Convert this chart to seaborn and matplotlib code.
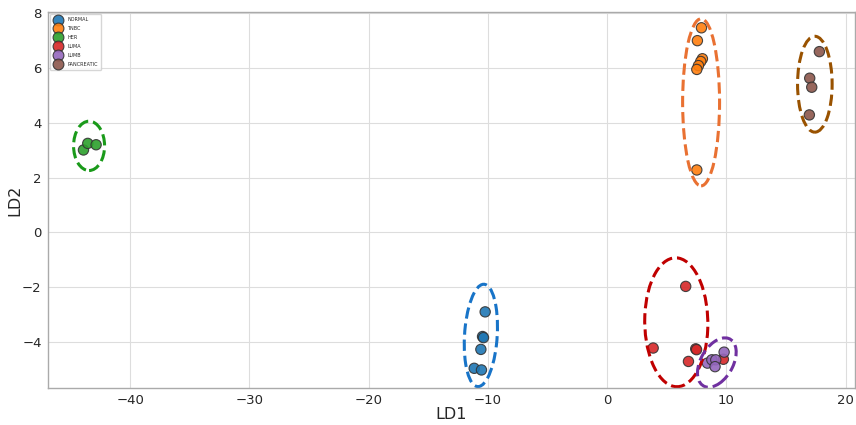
import seaborn as sns
import matplotlib.pyplot as plt
import pandas as pd
from matplotlib.patches import Ellipse

# LDA projection
normal_ld1 = [-10.23, -10.45, -10.37, -10.59, -11.15, -10.54]
normal_ld2 = [-2.90, -3.80, -3.84, -4.27, -4.96, -5.02]
tnbc_ld1 = [7.91, 7.57, 7.99, 7.85, 7.66, 7.52, 7.52]
tnbc_ld2 = [7.47, 7.00, 6.34, 6.24, 6.09, 5.95, 2.28]
her_ld1 = [-43.92, -43.56, -42.86]
her_ld2 = [3.01, 3.25, 3.20]
luma_ld1 = [6.59, 3.86, 7.43, 7.50, 6.82, 9.75]
luma_ld2 = [-1.97, -4.22, -4.25, -4.28, -4.71, -4.63]
lumb_ld1 = [8.41, 8.78, 9.11, 9.05, 9.81]
lumb_ld2 = [-4.77, -4.65, -4.65, -4.90, -4.37]
panc_ld1 = [17.80, 16.99, 17.16, 16.96]
panc_ld2 = [6.60, 5.63, 5.30, 4.29]

groups = ["NORMAL", "TNBC", "HER", "LUMA", "LUMB", "PANCREATIC"]
ld1 = [normal_ld1, tnbc_ld1, her_ld1, luma_ld1, lumb_ld1, panc_ld1]
ld2 = [normal_ld2, tnbc_ld2, her_ld2, luma_ld2, lumb_ld2, panc_ld2]

# cluster outlines: center x, center y, width, height, angle
ell_cx = [-10.59, 7.88, -43.45, 5.80, 9.20, 17.42]
ell_cy = [-3.76, 4.75, 3.16, -3.28, -4.75, 5.41]
ell_w = [2.7, 3.1, 2.6, 5.3, 3.36, 2.9]
ell_h = [3.8, 6.1, 1.8, 4.7, 1.58, 3.5]
ell_angle = [-15, 0, 0, -5, 17, 0]
ell_colors = ["#1874c8", "#e97132", "#1a9a1a", "#c00000", "#7030a0", "#995200"]

rows = []
for g, xs, ys in zip(groups, ld1, ld2):
    for x, y in zip(xs, ys):
        rows.append({"LD1": x, "LD2": y, "group": g})
df = pd.DataFrame(rows)

sns.set_style("whitegrid")
fig = plt.figure(figsize=(8.56, 4.25), dpi=100)
ax = fig.add_axes([0.056, 0.087, 0.943, 0.885])

sns.scatterplot(data=df, x="LD1", y="LD2", hue="group", hue_order=groups,
                palette="tab10", s=55, edgecolor="#333333", linewidth=0.8,
                alpha=0.9, ax=ax)

for cx, cy, w, h, a, c in zip(ell_cx, ell_cy, ell_w, ell_h, ell_angle, ell_colors):
    ax.add_patch(Ellipse((cx, cy), w, h, angle=a, fill=False, edgecolor=c,
                         linestyle="--", linewidth=2.2))

ax.set_xlim(-46.9, 20.8)
ax.set_ylim(-5.68, 8.05)
ax.set_xticks([-40, -30, -20, -10, 0, 10, 20])
ax.set_yticks([-4, -2, 0, 2, 4, 6, 8])
ax.tick_params(labelsize=9.5, length=3, pad=1.5, color="#aaaaaa")
ax.set_xlabel("LD1", fontsize=11.5, labelpad=0)
ax.set_ylabel("LD2", fontsize=11.5, labelpad=0)
for sp in ax.spines.values():
    sp.set_color("#aaaaaa")
    sp.set_linewidth(1.0)
ax.grid(color="#dddddd", linewidth=0.8)

ax.legend(loc="upper left", fontsize=3.5, markerscale=1.05, frameon=True,
          borderpad=0.6, labelspacing=0.8, handletextpad=0.9)

fig.savefig("out.png", dpi=100)
